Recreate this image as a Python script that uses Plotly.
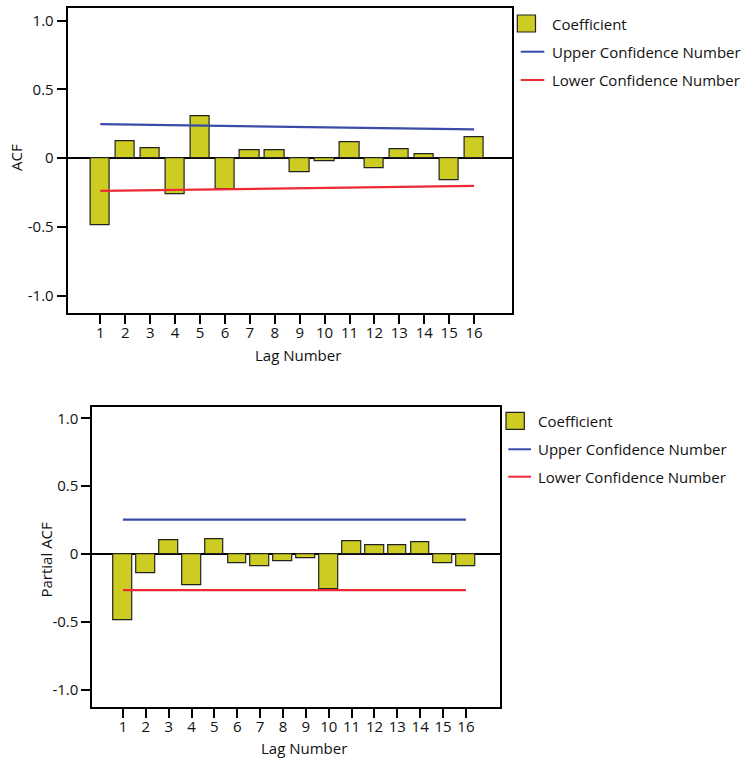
import plotly.graph_objects as go

# ---- data ----
lags = list(range(1, 17))
acf_values = [-0.485, 0.126, 0.073, -0.260, 0.303, -0.223, 0.061, 0.061,
              -0.099, -0.024, 0.116, -0.075, 0.068, 0.027, -0.162, 0.155]
acf_conf_lags = [1, 16]
acf_upper = [0.248, 0.209]
acf_lower = [-0.238, -0.201]

pacf_values = [-0.486, -0.142, 0.103, -0.228, 0.110, -0.064, -0.091, -0.054,
               -0.029, -0.255, 0.097, 0.063, 0.067, 0.087, -0.064, -0.086]
pacf_conf_lags = [1, 16]
pacf_upper = [0.255, 0.255]
pacf_lower = [-0.265, -0.265]

y_tickvals = [-1.0, -0.5, 0, 0.5, 1.0]
y_ticktext = ["-1.0", "-0.5", "0", "0.5", "1.0"]
legend_labels = ["Coefficient", "Upper Confidence Number", "Lower Confidence Number"]

W, H = 751, 760
FONT = "Open Sans"
BAR_FILL = "#CCCC22"
BAR_EDGE = "#222222"
BLUE = "#3A4BA8"
RED = "#EE2A35"


def px(x):
    return x / W


def py(y):
    return 1 - y / H


fig = go.Figure()

# top panel
fig.add_trace(go.Bar(x=lags, y=acf_values, width=0.78, marker=dict(color=BAR_FILL, line=dict(color=BAR_EDGE, width=1.2)),
                     xaxis="x", yaxis="y", showlegend=False, name=legend_labels[0]))
fig.add_trace(go.Scatter(x=acf_conf_lags, y=acf_upper, mode="lines", line=dict(color=BLUE, width=2.2),
                         xaxis="x", yaxis="y", showlegend=False, name=legend_labels[1]))
fig.add_trace(go.Scatter(x=acf_conf_lags, y=acf_lower, mode="lines", line=dict(color=RED, width=2.2),
                         xaxis="x", yaxis="y", showlegend=False, name=legend_labels[2]))

# bottom panel
fig.add_trace(go.Bar(x=lags, y=pacf_values, width=0.82, marker=dict(color=BAR_FILL, line=dict(color=BAR_EDGE, width=1.2)),
                     xaxis="x2", yaxis="y2", showlegend=False, name=legend_labels[0]))
fig.add_trace(go.Scatter(x=pacf_conf_lags, y=pacf_upper, mode="lines", line=dict(color=BLUE, width=2.2),
                         xaxis="x2", yaxis="y2", showlegend=False, name=legend_labels[1]))
fig.add_trace(go.Scatter(x=pacf_conf_lags, y=pacf_lower, mode="lines", line=dict(color=RED, width=2.2),
                         xaxis="x2", yaxis="y2", showlegend=False, name=legend_labels[2]))

axis_common = dict(showline=True, linecolor="black", linewidth=2, mirror=True,
                   ticks="outside", ticklen=9, tickwidth=2, tickcolor="black",
                   showgrid=False, tickfont=dict(family=FONT, size=15, color="#111"))

fig.update_layout(
    width=W, height=H,
    margin=dict(l=0, r=0, t=0, b=0),
    paper_bgcolor="white", plot_bgcolor="white",
    font=dict(family=FONT, size=15, color="#111"),
    bargap=0,
    xaxis=dict(domain=[px(67.7), px(511.7)], anchor="y", range=[-0.31, 17.51],
               tickvals=lags, zeroline=False, ticklabelstandoff=-4, **axis_common),
    yaxis=dict(domain=[py(313.3), py(8.3)], anchor="x", range=[-1.128, 1.09],
               tickvals=y_tickvals, ticktext=y_ticktext,
               zeroline=True, zerolinecolor="black", zerolinewidth=2, **axis_common),
    xaxis2=dict(domain=[px(92.3), px(500)], anchor="y2", range=[-0.34, 17.49],
                tickvals=lags, zeroline=False, ticklabelstandoff=-4, **axis_common),
    yaxis2=dict(domain=[py(707.3), py(407.3)], anchor="x2", range=[-1.127, 1.081],
                tickvals=y_tickvals, ticktext=y_ticktext,
                zeroline=True, zerolinecolor="black", zerolinewidth=2, **axis_common),
)

annotations = []
shapes = []


def text(x, y, s, rot=0, xanchor="center"):
    annotations.append(dict(x=px(x), y=py(y), xref="paper", yref="paper", text=s, showarrow=False,
                            textangle=rot, xanchor=xanchor, yanchor="middle",
                            font=dict(family=FONT, size=15, color="#111")))


# axis titles
text(16, 158, "ACF", rot=-90)
text(298, 355, "Lag Number")
text(45.5, 560, "Partial ACF", rot=-90)
text(304, 748, "Lag Number")


def legend(bx0, bx1, by0, by1, tx, ty0, lx0, lx1, ly1, ly2):
    shapes.append(dict(type="rect", xref="paper", yref="paper", x0=px(bx0), x1=px(bx1), y0=py(by1), y1=py(by0),
                       fillcolor=BAR_FILL, line=dict(color=BAR_EDGE, width=1.2)))
    shapes.append(dict(type="line", xref="paper", yref="paper", x0=px(lx0), x1=px(lx1), y0=py(ly1), y1=py(ly1),
                       line=dict(color=BLUE, width=2)))
    shapes.append(dict(type="line", xref="paper", yref="paper", x0=px(lx0), x1=px(lx1), y0=py(ly2), y1=py(ly2),
                       line=dict(color=RED, width=2)))
    text(tx, ty0, legend_labels[0], xanchor="left")
    text(tx, ly1, legend_labels[1], xanchor="left")
    text(tx, ly2, legend_labels[2], xanchor="left")


legend(517.3, 535.5, 15, 32, 550, 23.5, 520.7, 544.3, 51.7, 80)
legend(506, 524.3, 412.3, 429.3, 535.5, 421, 508.3, 531, 449.3, 476.7)

fig.update_layout(annotations=annotations, shapes=shapes)

fig.write_html("out.html")
